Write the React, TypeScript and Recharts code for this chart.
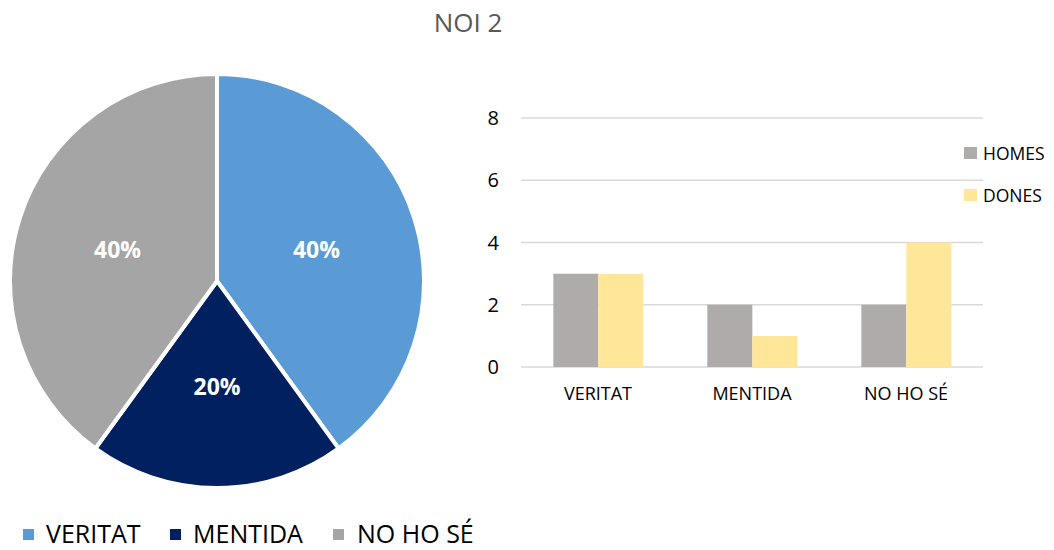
import React from 'react';
import {
  PieChart,
  Pie,
  Cell,
  BarChart,
  Bar,
  XAxis,
  YAxis,
  CartesianGrid,
} from 'recharts';

const answers = ['VERITAT', 'MENTIDA', 'NO HO SÉ'];
const pieShares = [40, 20, 40];
const homes = [3, 2, 2];
const dones = [3, 1, 4];
const yTicks = [0, 2, 4, 6, 8];

const pieColors = ['#5B9BD5', '#002060', '#A5A5A5'];
const barSeries = [
  { key: 'HOMES', color: '#AFABAB' },
  { key: 'DONES', color: '#FFE699' },
];
const FONT = '"Open Sans", "Noto Sans", sans-serif';

const pieData = answers.map((name, i) => ({ name, value: pieShares[i] }));
const barData = answers.map((name, i) => ({ name, HOMES: homes[i], DONES: dones[i] }));

const RADIAN = Math.PI / 180;

const PieLabel = ({ cx, cy, midAngle, outerRadius, percent }: any) => {
  const r = outerRadius * 0.505;
  const x = cx + r * Math.cos(-midAngle * RADIAN);
  const y = cy + r * Math.sin(-midAngle * RADIAN);
  return (
    <text
      x={x}
      y={y}
      fill="#fff"
      textAnchor="middle"
      dominantBaseline="central"
      style={{ fontFamily: FONT, fontSize: 23, fontWeight: 700 }}
    >
      {`${Math.round(percent * 100)}%`}
    </text>
  );
};

// bottom legend of the pie
const PieLegend = () => (
  <div style={{ position: 'absolute', left: 0, top: 520, width: 500, height: 28 }}>
    {answers.map((name, i) => {
      const sq = [23, 170, 333][i];
      const tx = [46, 193, 357][i];
      return (
        <React.Fragment key={name}>
          <div
            style={{
              position: 'absolute',
              left: sq,
              top: 9,
              width: 11,
              height: 11,
              background: pieColors[i],
            }}
          />
          <div
            style={{
              position: 'absolute',
              left: tx,
              top: 0,
              fontSize: 25,
              lineHeight: '26px',
              color: '#000',
              whiteSpace: 'nowrap',
            }}
          >
            {name}
          </div>
        </React.Fragment>
      );
    })}
  </div>
);

// right legend of the bar chart
const BarLegend = () => (
  <div style={{ position: 'absolute', left: 964, top: 147, width: 90, height: 60 }}>
    {barSeries.map((it, i) => (
      <React.Fragment key={it.key}>
        <div
          style={{
            position: 'absolute',
            left: 0,
            top: i * 42,
            width: 13,
            height: 12,
            background: it.color,
          }}
        />
        <div
          style={{
            position: 'absolute',
            left: 19,
            top: i * 42 - 5,
            fontSize: 17.5,
            lineHeight: '22px',
            color: '#000',
            whiteSpace: 'nowrap',
          }}
        >
          {it.key}
        </div>
      </React.Fragment>
    ))}
  </div>
);

const App: React.FC = () => {
  return (
    <div
      style={{
        position: 'absolute',
        left: 0,
        top: 0,
        width: 1054,
        height: 550,
        background: '#fff',
        overflow: 'hidden',
        fontFamily: FONT,
      }}
    >
      <div
        style={{
          position: 'absolute',
          left: 0,
          top: 9,
          width: 936,
          textAlign: 'center',
          fontSize: 26,
          lineHeight: '26px',
          color: '#595959',
        }}
      >
        NOI 2
      </div>

      <div style={{ position: 'absolute', left: 0, top: 0 }}>
        <PieChart width={440} height={500} margin={{ top: 0, right: 0, bottom: 0, left: 0 }}>
          <Pie
            data={pieData}
            dataKey="value"
            nameKey="name"
            cx={217}
            cy={281}
            outerRadius={207}
            startAngle={90}
            endAngle={-270}
            stroke="#fff"
            strokeWidth={4}
            label={PieLabel}
            labelLine={false}
            isAnimationActive={false}
          >
            {pieData.map((d, i) => (
              <Cell key={d.name} fill={pieColors[i]} />
            ))}
          </Pie>
        </PieChart>
      </div>
      <PieLegend />

      <div style={{ position: 'absolute', left: 440, top: 90 }}>
        <BarChart
          width={614}
          height={340}
          data={barData}
          margin={{ top: 28, right: 71, left: 0, bottom: 33 }}
          barCategoryGap="21%"
          barGap={0}
        >
          <CartesianGrid vertical={false} stroke="#D9D9D9" strokeWidth={1.5} />
          <XAxis
            dataKey="name"
            axisLine={false}
            tickLine={false}
            tickSize={0}
            tickMargin={20}
            height={30}
            tick={{ fill: '#000', fontSize: 18, fontFamily: FONT }}
          />
          <YAxis
            width={81}
            domain={[0, 8]}
            ticks={yTicks}
            axisLine={false}
            tickLine={false}
            tickSize={0}
            tickMargin={22}
            tick={{ fill: '#000', fontSize: 20, fontFamily: FONT }}
          />
          {barSeries.map((s) => (
            <Bar key={s.key} dataKey={s.key} fill={s.color} isAnimationActive={false} />
          ))}
        </BarChart>
      </div>
      <BarLegend />
    </div>
  );
};

export default App;
